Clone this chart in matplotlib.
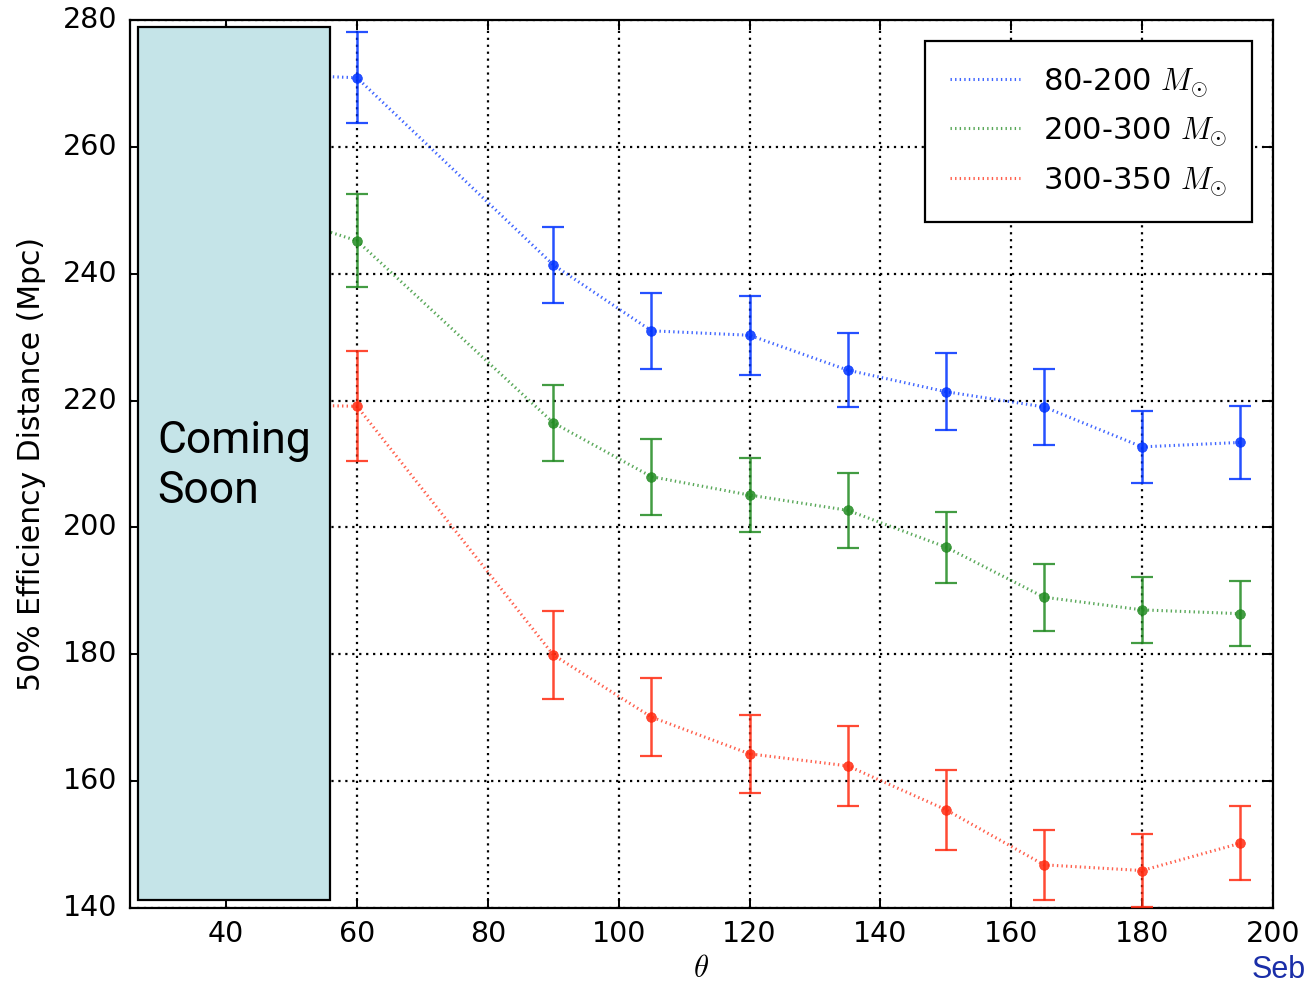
import matplotlib
matplotlib.use("Agg")
import matplotlib.pyplot as plt
from matplotlib.patches import Rectangle
import numpy as np

plt.style.use('classic')

theta = [60, 90, 105, 120, 135, 150, 165, 180, 195]

d_low = [270.9, 241.4, 231.0, 230.3, 224.8, 221.4, 219.0, 212.7, 213.4]
e_low = [7.2, 6.0, 6.0, 6.2, 5.8, 6.1, 6.0, 5.7, 5.8]

d_mid = [245.2, 216.5, 208.0, 205.1, 202.7, 196.9, 189.0, 187.0, 186.4]
e_mid = [7.3, 6.0, 6.0, 5.8, 5.9, 5.6, 5.3, 5.2, 5.1]

d_high = [219.1, 179.9, 170.1, 164.3, 162.4, 155.5, 146.8, 145.9, 150.2]
e_high = [8.7, 7.0, 6.2, 6.1, 6.3, 6.3, 5.5, 5.7, 5.8]

# the lines run on behind the box to a point at 50
line_theta = [50] + theta
line_low = [271.3] + d_low
line_mid = [248.5] + d_mid
line_high = [219.3] + d_high

labels = [r'80-200 $M_{\odot}$', r'200-300 $M_{\odot}$', r'300-350 $M_{\odot}$']
colors = ['#0033ff', '#228b22', '#ff2a10']

fig = plt.figure(figsize=(13.04, 9.82), dpi=100, facecolor='white')
ax = fig.add_axes([0.0997, 0.0754, 0.8765, 0.9042])
ax.set_facecolor('white')

series = [(line_low, d_low, e_low), (line_mid, d_mid, e_mid), (line_high, d_high, e_high)]
for (ly, dy, ey), c, lab in zip(series, colors, labels):
    ax.plot(line_theta, ly, color=c, lw=2.2, ls=(0, (1.0, 2.3)), alpha=0.75, label=lab, zorder=3)
    ax.errorbar(theta, dy, yerr=ey, fmt='o', color=c, ecolor=c, mec=c, ms=7,
                elinewidth=1.8, capsize=8, capthick=1.6, alpha=0.85, zorder=4)

ax.set_xlim(25.3, 200)
ax.set_ylim(140, 280)
ax.set_xticks(np.arange(40, 201, 20))
ax.set_yticks(np.arange(140, 281, 20))
ax.grid(True, color='black', linestyle=(0, (1.6, 3.4)), linewidth=1.6)
ax.set_axisbelow(True)
for s in ax.spines.values():
    s.set_linewidth(1.6)
ax.tick_params(labelsize=20.5, width=1.4, length=7, pad=9)
ax.set_xlabel(r'$\theta$', fontsize=22, labelpad=4)
ax.set_ylabel('50% Efficiency Distance (Mpc)', fontsize=21.5, labelpad=12)

leg = ax.legend(loc='upper right', fontsize=22, handlelength=2.3, handletextpad=0.75,
                borderpad=0.8, labelspacing=0.55, borderaxespad=0.7, fancybox=False,
                numpoints=1)
leg.get_frame().set_linewidth(1.6)
leg.get_frame().set_edgecolor('black')

box = Rectangle((0.007, 0.009), 0.168, 0.983, transform=ax.transAxes,
                facecolor='#c5e4e8', edgecolor='black', lw=1.6, zorder=10)
ax.add_patch(box)
ax.text(0.024, 0.498, 'Coming\nSoon', transform=ax.transAxes, fontsize=32,
        family=['Roboto', 'Liberation Sans'], va='center', ha='left',
        linespacing=1.25, zorder=11)

fig.text(0.960, 0.012, 'Seb', color='#1a2ea8', fontsize=22, family='Liberation Sans',
         ha='left', va='center')

fig.savefig('out.png', dpi=100, facecolor='white')
